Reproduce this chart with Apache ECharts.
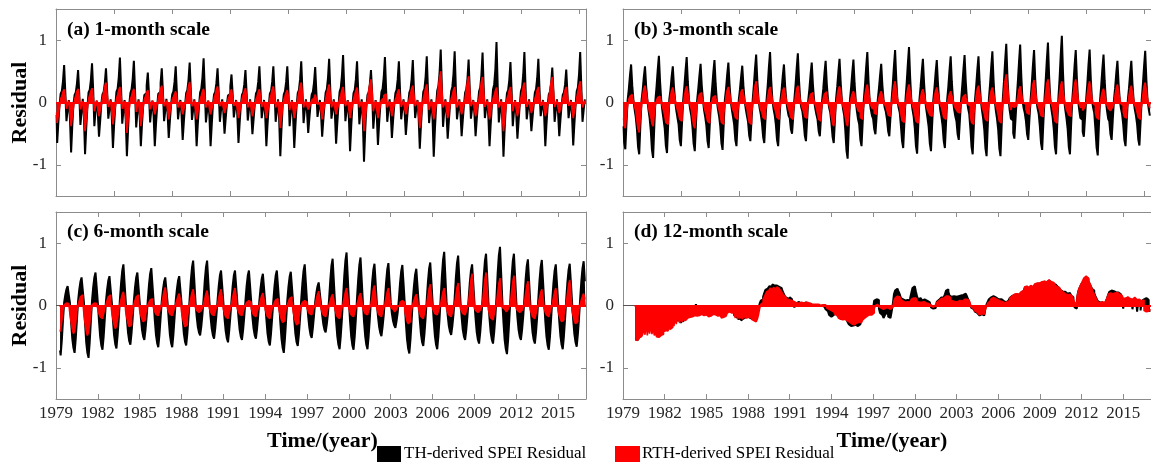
<!DOCTYPE html>
<html>
<head>
<meta charset="utf-8">
<script src="https://cdn.jsdelivr.net/npm/echarts@6/dist/echarts.min.js"></script>
<style>
html, body { margin: 0; padding: 0; background: #ffffff; }
#chart { width: 1151px; height: 463px; }
</style>
</head>
<body>
<div id="chart"></div>
<script>
// Monthly SPEI residuals, Jan 1979 .. Dec 2016, one row of 12 months per year, in units of 0.01.
// th* = TH-derived residual, rth* = RTH-derived residual; suffix = SPEI time scale in months.

const th1 = [
  -20,-65,-33,-5,14,18,34,60,17,-30,-12,4,     // 1979
  -25,-80,-38,-3,12,16,30,52,15,-36,-16,6,     // 1980
  -22,-83,-42,-8,16,20,36,63,20,-38,-14,3,     // 1981
  -18,-55,-30,-2,13,17,31,55,18,-26,-10,5,     // 1982
  -24,-73,-36,-6,17,22,40,72,22,-34,-13,4,     // 1983
  -27,-86,-44,-4,15,21,38,67,19,-40,-17,5,     // 1984
  -21,-70,-35,-5,12,15,27,48,14,-32,-11,3,     // 1985
  -22,-70,-36,-7,14,17,31,55,17,-30,-13,6,     // 1986
  -18,-57,-29,-3,13,18,33,58,16,-27,-10,4,     // 1987
  -19,-60,-31,-5,15,20,36,64,19,-28,-12,5,     // 1988
  -23,-70,-35,-6,16,22,40,71,21,-32,-14,3,     // 1989
  -22,-70,-36,-4,13,17,31,55,16,-31,-12,5,     // 1990
  -16,-50,-26,-3,11,14,26,45,13,-24,-9,4,      // 1991
  -20,-65,-33,-5,12,16,29,52,15,-29,-12,5,     // 1992
  -17,-51,-27,-4,14,18,33,58,17,-25,-10,4,     // 1993
  -22,-70,-35,-6,14,18,33,58,18,-31,-13,5,     // 1994
  -27,-86,-43,-5,13,18,33,58,17,-38,-15,4,     // 1995
  -23,-73,-37,-6,15,20,37,66,20,-33,-13,5,     // 1996
  -16,-49,-25,-3,13,17,32,57,17,-23,-9,4,      // 1997
  -18,-55,-28,-4,16,21,39,70,21,-26,-11,5,     // 1998
  -21,-66,-34,-6,17,23,43,76,23,-30,-12,4,     // 1999
  -25,-78,-39,-5,15,20,37,66,19,-35,-14,5,     // 2000
  -30,-95,-47,-7,12,16,29,52,15,-42,-17,4,     // 2001
  -22,-68,-34,-5,17,22,41,73,22,-31,-12,5,     // 2002
  -18,-57,-29,-4,15,20,37,66,20,-27,-10,5,     // 2003
  -17,-52,-27,-3,16,21,38,68,20,-25,-10,4,     // 2004
  -24,-74,-37,-6,17,22,41,74,22,-33,-13,5,     // 2005
  -28,-87,-44,-7,19,26,47,85,26,-39,-15,5,     // 2006
  -19,-58,-30,-4,18,25,46,82,25,-27,-11,5,     // 2007
  -18,-54,-28,-4,16,21,38,69,21,-26,-10,4,     // 2008
  -18,-54,-27,-3,18,24,44,80,24,-25,-10,5,     // 2009
  -23,-70,-35,-5,21,29,53,97,29,-32,-13,5,     // 2010
  -28,-87,-43,-6,15,20,36,65,19,-38,-15,4,     // 2011
  -19,-58,-30,-4,18,24,45,81,24,-27,-11,5,     // 2012
  -15,-46,-24,-3,16,21,39,70,21,-22,-9,4,      // 2013
  -22,-70,-35,-5,13,17,31,56,17,-31,-12,5,     // 2014
  -18,-54,-28,-4,12,16,29,53,16,-25,-10,4,     // 2015
  -22,-69,-35,-5,18,24,45,81,24,-31,-12,5      // 2016
];

const rth1 = [
  -16,-33,-20,-7,6,10,17,21,9,-10,-3,3,        // 1979
  -19,-38,-23,-8,5,11,18,22,10,-11,-4,2,       // 1980
  -23,-46,-28,-9,6,12,18,23,10,-14,-5,3,       // 1981
  -11,-22,-13,-4,7,16,26,32,14,-7,-2,3,        // 1982
  -17,-35,-21,-7,6,12,20,25,11,-10,-4,2,       // 1983
  -25,-49,-29,-10,5,11,18,22,10,-15,-5,3,      // 1984
  -19,-38,-23,-8,5,10,16,20,9,-11,-4,3,        // 1985
  -10,-19,-11,-4,6,14,22,27,12,-6,-2,3,        // 1986
  -13,-27,-16,-5,5,9,14,18,8,-8,-3,2,          // 1987
  -10,-19,-11,-4,7,16,26,33,15,-6,-2,3,        // 1988
  -13,-27,-16,-5,5,11,18,22,10,-8,-3,3,        // 1989
  -10,-19,-11,-4,6,13,21,26,12,-6,-2,2,        // 1990
  -9,-17,-10,-3,5,10,17,21,9,-5,-2,3,          // 1991
  -12,-25,-15,-5,6,12,18,23,10,-8,-3,3,        // 1992
  -11,-22,-13,-4,5,10,17,21,9,-7,-2,2,         // 1993
  -12,-25,-15,-5,6,13,21,26,12,-8,-3,3,        // 1994
  -20,-41,-25,-8,5,10,16,20,9,-12,-4,3,        // 1995
  -12,-25,-15,-5,7,16,26,32,14,-8,-3,3,        // 1996
  -6,-11,-7,-2,4,7,10,13,6,-3,-1,2,            // 1997
  -13,-27,-16,-5,6,14,23,29,13,-8,-3,3,        // 1998
  -10,-19,-11,-4,6,12,20,25,11,-6,-2,3,        // 1999
  -12,-25,-15,-5,6,12,19,24,11,-8,-3,2,        // 2000
  -23,-46,-28,-9,7,18,30,37,17,-14,-5,3,       // 2001
  -12,-25,-15,-5,4,7,11,14,6,-8,-3,2,          // 2002
  -11,-22,-13,-4,5,10,17,21,9,-7,-2,3,         // 2003
  -10,-19,-11,-4,6,14,22,27,12,-6,-2,3,        // 2004
  -20,-41,-25,-8,6,14,23,29,13,-12,-4,3,       // 2005
  -13,-27,-16,-5,8,25,40,50,22,-8,-3,3,        // 2006
  -12,-25,-15,-5,6,12,20,25,11,-8,-3,3,        // 2007
  -10,-19,-11,-4,7,21,34,42,19,-6,-2,3,        // 2008
  -11,-22,-13,-4,7,20,33,41,18,-7,-2,3,        // 2009
  -13,-27,-16,-5,6,12,19,24,11,-8,-3,3,        // 2010
  -23,-46,-28,-9,6,12,20,25,11,-14,-5,3,       // 2011
  -11,-22,-13,-4,7,16,26,32,14,-7,-2,3,        // 2012
  -9,-17,-10,-3,6,12,20,25,11,-5,-2,3,         // 2013
  -11,-22,-13,-4,7,20,33,41,18,-7,-2,3,        // 2014
  -9,-17,-10,-3,6,12,20,25,11,-5,-2,3,         // 2015
  -12,-25,-15,-5,7,17,27,34,15,-8,-3,3         // 2016
];

const th3 = [
  -38,-64,-75,-34,4,21,43,61,27,4,-11,-23,     // 1979
  -42,-71,-83,-37,3,20,41,58,26,5,-12,-25,     // 1980
  -45,-76,-89,-40,4,26,53,75,34,4,-13,-27,     // 1981
  -41,-69,-81,-36,5,20,41,58,26,3,-12,-24,     // 1982
  -35,-60,-70,-32,4,26,51,73,33,4,-11,-21,     // 1983
  -39,-66,-78,-35,3,22,43,62,28,5,-12,-23,     // 1984
  -37,-62,-73,-33,4,24,48,68,31,4,-11,-22,     // 1985
  -38,-65,-76,-34,5,22,45,64,29,3,-11,-23,     // 1986
  -35,-60,-70,-32,4,21,41,59,27,4,-10,-21,     // 1987
  -31,-53,-62,-28,4,27,54,77,35,5,-9,-19,      // 1988
  -33,-55,-65,-29,5,28,57,81,36,4,-10,-20,     // 1989
  -35,-60,-70,-32,4,21,43,61,27,3,-11,-21,     // 1990
  -25,-43,-50,-23,5,28,55,79,36,4,-8,-15,      // 1991
  -31,-53,-62,-28,4,22,45,64,29,4,-9,-19,      // 1992
  -27,-46,-54,-24,4,23,47,67,30,5,-8,-16,      // 1993
  -33,-55,-65,-29,5,25,49,70,32,4,-10,-20,     // 1994
  -45,-77,-90,-41,4,24,48,69,31,3,-14,-27,     // 1995
  -35,-60,-70,-32,5,28,57,81,36,4,-11,-21,     // 1996
  -26,-43,-51,-23,4,22,43,62,28,5,-8,-15,      // 1997
  -27,-46,-54,-24,5,29,59,84,38,4,-8,-16,      // 1998
  -37,-62,-73,-33,5,31,62,89,40,4,-11,-22,     // 1999
  -41,-70,-82,-37,4,25,49,70,32,3,-12,-25,     // 2000
  -39,-66,-78,-35,4,24,48,68,31,4,-12,-23,     // 2001
  -37,-62,-73,-33,5,26,52,74,33,4,-11,-22,     // 2002
  -30,-51,-60,-27,4,27,53,76,34,5,-9,-18,      // 2003
  -42,-71,-83,-37,4,26,52,74,33,4,-12,-25,     // 2004
  -43,-73,-86,-39,5,29,57,82,37,4,-13,-26,     // 2005
  -43,-73,-86,-39,5,33,66,94,42,5,-13,-26,     // 2006
  -29,-49,-58,-26,5,33,65,93,42,4,-9,-17,      // 2007
  -30,-51,-60,-27,4,29,59,84,38,4,-9,-18,      // 2008
  -38,-65,-76,-34,5,34,67,96,43,5,-11,-23,     // 2009
  -42,-71,-83,-37,6,37,75,107,48,4,-12,-25,    // 2010
  -42,-71,-83,-37,4,29,59,84,38,4,-12,-25,     // 2011
  -28,-47,-55,-25,5,30,60,85,38,4,-8,-17,      // 2012
  -43,-72,-85,-38,4,27,54,77,35,4,-13,-26,     // 2013
  -30,-51,-60,-27,4,23,47,67,30,5,-9,-18,      // 2014
  -35,-60,-70,-32,4,23,47,67,30,4,-11,-21,     // 2015
  -35,-59,-69,-31,5,29,58,83,37,4,-10,-21      // 2016
];

const rth3 = [
  -25,-37,-41,-21,-4,5,10,13,8,3,-6,-14,       // 1979
  -29,-43,-48,-24,-5,11,22,27,16,5,-7,-17,     // 1980
  -23,-34,-38,-19,-4,4,8,10,6,2,-6,-13,        // 1981
  -21,-32,-35,-18,-4,10,19,24,14,5,-5,-12,     // 1982
  -18,-27,-30,-15,-3,10,21,26,16,5,-5,-11,     // 1983
  -25,-37,-41,-21,-4,6,13,16,10,3,-6,-14,      // 1984
  -20,-30,-33,-17,-3,4,9,11,7,2,-5,-12,        // 1985
  -21,-32,-35,-18,-4,10,20,25,15,5,-5,-12,     // 1986
  -16,-24,-27,-14,-3,8,17,21,13,4,-4,-9,       // 1987
  -21,-32,-35,-18,-4,14,27,34,20,7,-5,-12,     // 1988
  -16,-24,-27,-14,-3,10,20,25,15,5,-4,-9,      // 1989
  -16,-24,-27,-14,-3,10,19,24,14,5,-4,-9,      // 1990
  -16,-24,-27,-14,-3,11,22,27,16,5,-4,-9,      // 1991
  -15,-23,-25,-13,-3,6,13,16,10,3,-4,-9,       // 1992
  -18,-27,-30,-15,-3,7,14,17,10,3,-5,-11,      // 1993
  -23,-34,-38,-19,-4,10,21,26,16,5,-6,-13,     // 1994
  -23,-34,-38,-19,-4,7,14,18,11,4,-6,-13,      // 1995
  -16,-24,-27,-14,-3,12,23,29,17,6,-4,-9,      // 1996
  -11,-17,-19,-10,-2,7,14,18,11,4,-3,-7,       // 1997
  -13,-20,-22,-11,-2,14,27,34,20,7,-3,-8,      // 1998
  -19,-29,-32,-16,-3,12,23,29,17,6,-5,-11,     // 1999
  -20,-30,-33,-17,-3,8,17,21,13,4,-5,-12,      // 2000
  -13,-20,-22,-11,-2,10,19,24,14,5,-3,-8,      // 2001
  -16,-24,-27,-14,-3,7,14,18,11,4,-4,-9,       // 2002
  -10,-15,-17,-9,-2,5,10,13,8,3,-3,-6,         // 2003
  -21,-32,-35,-18,-4,11,22,27,16,5,-5,-12,     // 2004
  -18,-27,-30,-15,-3,10,19,24,14,5,-5,-11,     // 2005
  -20,-30,-33,-17,-3,18,36,45,27,9,-5,-12,     // 2006
  -5,-8,-9,-5,-1,10,21,26,16,5,-1,-3,          // 2007
  -11,-17,-19,-10,-2,14,29,36,22,7,-3,-7,      // 2008
  -14,-21,-23,-12,-2,15,30,37,22,7,-3,-8,      // 2009
  -20,-30,-33,-17,-3,14,27,34,20,7,-5,-12,     // 2010
  -13,-20,-22,-11,-2,15,30,37,22,7,-3,-8,      // 2011
  -8,-13,-14,-7,-1,14,27,34,20,7,-2,-5,        // 2012
  -16,-24,-27,-14,-3,9,18,22,13,4,-4,-9,       // 2013
  -8,-13,-14,-7,-1,12,23,29,17,6,-2,-5,        // 2014
  -15,-23,-25,-13,-3,11,22,27,16,5,-4,-9,      // 2015
  -16,-24,-27,-14,-3,13,26,32,19,6,-4,-9       // 2016
];

const th6 = [
  null,null,null,-72,-80,-56,-24,5,17,26,31,17, // 1979
  4,-27,-53,-68,-76,-53,-23,7,25,38,45,25,     // 1980
  5,-29,-59,-76,-84,-59,-25,8,29,45,53,29,     // 1981
  4,-25,-50,-64,-71,-50,-21,7,26,40,47,26,     // 1982
  5,-24,-48,-62,-69,-48,-21,10,36,56,66,36,    // 1983
  6,-22,-44,-57,-63,-44,-19,8,29,45,53,29,     // 1984
  5,-19,-39,-50,-55,-39,-17,9,33,51,60,33,     // 1985
  6,-23,-47,-60,-67,-47,-20,7,25,38,45,25,     // 1986
  4,-23,-47,-60,-67,-47,-20,7,26,40,47,26,     // 1987
  4,-22,-45,-58,-64,-45,-19,11,40,61,72,40,    // 1988
  6,-17,-34,-43,-48,-34,-14,11,40,61,72,40,    // 1989
  6,-19,-37,-48,-53,-37,-16,8,31,48,56,31,     // 1990
  5,-21,-41,-53,-59,-41,-18,8,31,48,56,31,     // 1991
  5,-19,-39,-50,-55,-39,-17,8,31,48,56,31,     // 1992
  5,-19,-37,-48,-53,-37,-16,8,28,43,51,28,     // 1993
  4,-22,-45,-58,-64,-45,-19,8,31,48,56,31,     // 1994
  5,-27,-53,-68,-76,-53,-23,8,30,46,54,30,     // 1995
  5,-23,-46,-59,-65,-46,-20,10,36,56,66,36,    // 1996
  6,-18,-36,-47,-52,-36,-16,6,20,31,37,20,     // 1997
  3,-15,-30,-39,-43,-30,-13,11,41,64,75,41,    // 1998
  6,-25,-49,-63,-70,-49,-21,13,47,72,85,47,    // 1999
  7,-25,-50,-64,-71,-50,-21,12,42,65,77,42,    // 2000
  6,-25,-49,-63,-70,-49,-21,10,37,57,67,37,    // 2001
  5,-17,-34,-44,-49,-34,-15,10,37,58,68,37,    // 2002
  5,-13,-25,-32,-36,-25,-11,10,36,55,65,36,    // 2003
  5,-27,-54,-69,-77,-54,-23,9,32,50,59,32,     // 2004
  5,-23,-46,-59,-65,-46,-20,10,38,59,69,38,    // 2005
  5,-25,-49,-63,-70,-49,-21,13,47,73,86,47,    // 2006
  7,-16,-33,-42,-47,-33,-14,12,44,68,80,44,    // 2007
  6,-19,-39,-50,-55,-39,-17,10,36,56,66,36,    // 2008
  5,-21,-43,-55,-61,-43,-18,12,46,71,83,46,    // 2009
  7,-21,-43,-55,-61,-43,-18,14,52,80,94,52,    // 2010
  7,-27,-55,-70,-78,-55,-23,12,46,71,83,46,    // 2011
  7,-19,-39,-50,-55,-39,-17,11,41,63,74,41,    // 2012
  6,-21,-43,-55,-61,-43,-18,11,40,62,73,40,    // 2013
  6,-25,-50,-64,-71,-50,-21,10,36,56,66,36,    // 2014
  5,-25,-49,-63,-70,-49,-21,10,37,57,67,37,    // 2015
  5,-23,-46,-59,-66,-46,-20,11,39,60,71,39     // 2016
];

const rth6 = [
  null,null,null,-42,-38,-25,-8,1,2,4,5,3,     // 1979
  -14,-27,-38,-45,-41,-27,-9,2,8,14,17,9,      // 1980
  -14,-29,-41,-48,-43,-29,-10,1,2,4,5,3,       // 1981
  -6,-13,-18,-21,-19,-13,-4,2,8,14,17,9,       // 1982
  -11,-22,-31,-37,-33,-22,-7,2,10,18,22,11,    // 1983
  -10,-20,-29,-34,-31,-20,-7,2,8,14,17,9,      // 1984
  -8,-16,-22,-26,-23,-16,-5,1,5,9,11,6,        // 1985
  -5,-10,-14,-16,-14,-10,-3,3,13,23,29,15,     // 1986
  -5,-10,-14,-16,-14,-10,-3,2,9,15,19,10,      // 1987
  -10,-20,-29,-34,-31,-20,-7,3,12,21,26,13,    // 1988
  -4,-8,-11,-13,-12,-8,-3,2,11,19,24,12,       // 1989
  -5,-10,-14,-16,-14,-10,-3,3,12,21,26,13,     // 1990
  -6,-13,-18,-21,-19,-13,-4,3,13,22,28,14,     // 1991
  -5,-10,-14,-16,-14,-10,-3,1,5,8,10,5,        // 1992
  -5,-11,-15,-18,-16,-11,-4,2,9,16,20,10,      // 1993
  -6,-13,-18,-21,-19,-13,-4,1,5,9,11,6,        // 1994
  -8,-16,-23,-27,-24,-16,-5,1,6,11,14,7,       // 1995
  -9,-19,-26,-31,-28,-19,-6,1,5,8,10,5,        // 1996
  -5,-9,-13,-15,-14,-9,-3,2,10,18,23,12,       // 1997
  -5,-11,-15,-18,-16,-11,-4,2,8,14,18,9,       // 1998
  -6,-13,-18,-21,-19,-13,-4,3,13,22,28,14,     // 1999
  -5,-11,-15,-18,-16,-11,-4,2,9,16,20,10,      // 2000
  -5,-9,-13,-15,-14,-9,-3,3,14,26,32,16,       // 2001
  -5,-11,-15,-18,-16,-11,-4,3,13,22,28,14,     // 2002
  -3,-6,-9,-10,-9,-6,-2,1,5,8,10,5,            // 2003
  -9,-17,-25,-29,-26,-17,-6,2,8,14,18,9,       // 2004
  -6,-13,-18,-21,-19,-13,-4,3,15,27,34,17,     // 2005
  -5,-9,-13,-15,-14,-9,-3,3,13,22,28,14,       // 2006
  -5,-11,-15,-18,-16,-11,-4,4,16,29,36,18,     // 2007
  -5,-9,-13,-15,-14,-9,-3,5,23,41,51,26,       // 2008
  -4,-8,-11,-13,-12,-8,-3,5,24,42,53,27,       // 2009
  -7,-14,-20,-23,-21,-14,-5,4,20,35,44,22,     // 2010
  -3,-6,-9,-10,-9,-6,-2,5,22,38,48,24,         // 2011
  -4,-8,-11,-13,-12,-8,-3,4,18,31,39,20,       // 2012
  -6,-13,-18,-21,-19,-13,-4,3,12,21,26,13,     // 2013
  -5,-11,-15,-18,-16,-11,-4,3,13,22,28,14,     // 2014
  -8,-16,-22,-26,-23,-16,-5,4,18,33,41,21,     // 2015
  -9,-17,-25,-29,-26,-17,-6,2,9,15,19,10       // 2016
];

const th12 = [
  null,null,null,null,null,null,null,null,null,null,-54,-55, // 1979
  -55,-53,-50,-47,-45,-43,-38,-40,-36,-38,-35,-37, // 1980
  -36,-37,-34,-36,-33,-35,-36,-34,-37,-35,-33,-30, // 1981
  -33,-31,-34,-30,-30,-31,-29,-27,-28,-26,-25,-24, // 1982
  -25,-24,-28,-22,-26,-20,-18,-19,-17,-18,-16,-17, // 1983
  -12,-8,-4,2,-5,-10,-12,-13,-11,-12,-14,-12,      // 1984
  -13,-14,-15,-13,-12,-13,-11,-10,-12,-14,-15,-13, // 1985
  -15,-17,-18,-16,-14,-12,-9,-7,-2,-6,-10,-12,     // 1986
  -16,-15,-18,-17,-22,-20,-24,-21,-23,-19,-20,-18, // 1987
  -18,-20,-19,-21,-20,-18,-17,-15,-12,-5,3,8,      // 1988
  10,14,20,25,27,30,31,33,30,34,32,33,             // 1989
  32,35,30,31,28,27,22,18,14,12,11,8,              // 1990
  13,10,6,2,-3,-2,4,6,3,2,5,3,                     // 1991
  3,5,4,2,1,3,2,0,-1,1,2,1,                        // 1992
  1,2,-1,-2,0,1,-2,-6,-9,-12,-15,-18,              // 1993
  -20,-19,-15,-12,-14,-16,-18,-20,-19,-21,-22,-20, // 1994
  -21,-23,-22,-30,-33,-35,-32,-34,-35,-31,-33,-30, // 1995
  -30,-28,-22,-18,-15,-12,-10,-8,-6,-5,-6,-7,      // 1996
  -4,8,10,11,9,-5,-12,-15,-18,-20,-16,-12,         // 1997
  -14,-18,-20,-17,-10,2,18,24,27,26,22,18,         // 1998
  12,10,9,8,11,9,10,8,12,20,28,31,                 // 1999
  30,22,14,10,12,9,8,11,10,9,8,7,                  // 2000
  5,2,-3,-5,-6,-4,-2,6,9,12,11,13,                 // 2001
  13,15,18,24,26,22,16,14,12,15,17,14,             // 2002
  12,15,13,16,14,17,18,19,17,15,10,6,              // 2003
  0,-4,-6,-8,-10,-12,-14,-15,-16,-15,-14,-16,      // 2004
  -14,-5,2,6,10,13,15,14,15,13,11,10,              // 2005
  10,8,10,9,7,5,4,5,6,8,12,15,                     // 2006
  15,17,16,18,19,17,20,19,21,23,26,29,             // 2007
  28,30,29,27,31,29,32,31,34,33,35,36,             // 2008
  35,37,36,38,39,37,38,40,39,37,38,38,             // 2009
  35,33,30,31,29,28,25,24,22,23,22,21,             // 2010
  19,18,20,16,13,8,-3,-5,10,21,27,31,              // 2011
  35,38,42,44,45,43,39,35,31,27,24,20,             // 2012
  15,11,7,5,3,4,5,3,4,7,11,17,                     // 2013
  22,24,25,23,22,21,20,21,20,18,16,15,             // 2014
  -5,10,9,12,11,10,9,8,-6,7,8,10,                  // 2015
  -10,6,8,-8,7,8,10,12,11,9,-9,-8                  // 2016
];

const rth12 = [
  null,null,null,null,null,null,null,null,null,null,-55,-57, // 1979
  -56,-54,-52,-50,-49,-46,-30,-47,-28,-48,-32,-45, // 1980
  -30,-46,-33,-48,-44,-50,-49,-51,-50,-48,-46,-42, // 1981
  -40,-38,-41,-37,-36,-38,-35,-20,-33,-18,-30,-17, // 1982
  -16,-28,-18,-26,-22,-24,-21,-22,-20,-21,-19,-20, // 1983
  -18,-17,-16,-15,-17,-18,-16,-15,-14,-16,-17,-15, // 1984
  -16,-18,-19,-17,-15,-16,-14,-13,-15,-17,-18,-16, // 1985
  -18,-20,-21,-19,-17,-15,-12,-10,-8,-9,-12,-11,   // 1986
  -12,-20,-10,-22,-13,-21,-15,-22,-14,-20,-12,-21, // 1987
  -15,-20,-18,-22,-24,-25,-26,-24,-22,-15,-5,2,    // 1988
  5,10,14,18,22,24,26,28,25,27,29,26,              // 1989
  28,30,27,25,26,22,18,15,12,11,10,9,              // 1990
  9,8,7,6,5,4,6,5,4,3,5,4,                         // 1991
  4,3,5,3,2,4,3,2,1,2,3,2,                         // 1992
  2,1,0,-1,1,2,1,-2,-4,-5,-6,-8,                   // 1993
  -8,-10,-12,-14,-16,-18,-20,-22,-21,-23,-24,-22,  // 1994
  -23,-25,-24,-27,-28,-30,-29,-31,-30,-28,-29,-27, // 1995
  -28,-27,-25,-23,-22,-20,-19,-17,-16,-15,-14,-15, // 1996
  -12,-5,0,2,1,-2,-4,-5,-6,-5,-4,-3,               // 1997
  -4,-5,-6,-5,-3,0,8,12,15,16,14,13,               // 1998
  10,7,6,5,8,6,7,5,8,10,12,13,                     // 1999
  12,10,7,5,6,5,4,6,5,4,5,3,                       // 2000
  3,1,-1,-2,-3,-2,1,5,8,10,9,11,                   // 2001
  10,12,13,15,14,15,13,9,8,7,8,6,                  // 2002
  7,6,8,9,7,8,10,11,10,9,8,6,                      // 2003
  2,-3,-5,-7,-9,-11,-13,-14,-15,-13,-12,-14,       // 2004
  -12,-6,-1,4,7,9,11,12,13,11,10,9,                // 2005
  8,7,9,8,6,5,4,5,6,8,12,15,                       // 2006
  16,18,17,19,20,18,21,20,22,24,27,30,             // 2007
  29,31,30,28,32,30,33,32,35,34,36,37,             // 2008
  36,38,37,39,40,38,39,41,40,38,39,37,             // 2009
  35,33,30,31,29,28,24,22,20,21,19,18,             // 2010
  17,16,18,15,12,10,5,3,12,22,28,32,               // 2011
  36,40,44,45,47,44,40,36,32,27,22,18,             // 2012
  14,10,6,5,4,5,6,4,5,8,12,18,                     // 2013
  20,21,19,22,21,20,19,21,20,18,16,15,             // 2014
  12,13,11,14,12,13,11,12,10,13,11,12,             // 2015
  9,8,10,7,8,9,-8,-10,-12,-9,-7,-6                 // 2016
];

const panelTitles = ['(a) 1-month scale', '(b) 3-month scale', '(c) 6-month scale', '(d) 12-month scale'];
const legendNames = ['TH-derived SPEI Residual', 'RTH-derived SPEI Residual'];
const firstYear = 1979;
const monthCount = 456;
const monthTicks = [50, 100, 150, 200, 250, 300, 350, 400, 450];
const yearTicks = [0, 36, 72, 108, 144, 180, 216, 252, 288, 324, 360, 396, 432];
const residualTicks = [-1, 0, 1];

// each monthly value is plotted at the middle of its month
const months = th1.map((_, i) => i + 0.5);

const serif = '"Liberation Serif", "Times New Roman", serif';
const axisGray = '#8c8c8c';
const textDark = '#262626';

const grids = [
  { left: 56, top: 9, width: 530, height: 187 },
  { left: 623, top: 9, width: 530, height: 187 },
  { left: 56, top: 212, width: 530, height: 187 },
  { left: 623, top: 212, width: 530, height: 187 }
];

const panels = [
  { th: th1, rth: rth1, ticks: monthTicks, years: false },
  { th: th3, rth: rth3, ticks: monthTicks, years: false },
  { th: th6, rth: rth6, ticks: yearTicks, years: true },
  { th: th12, rth: rth12, ticks: yearTicks, years: true }
];

function toPoints(arr) {
  const out = [];
  arr.forEach((v, i) => { if (v !== null) out.push([months[i], v / 100]); });
  return out;
}
function firstIndex(arr) {
  return arr.findIndex(v => v !== null);
}

function xAxisFor(p, gi, pos) {
  return {
    type: 'value', gridIndex: gi, position: pos, min: 0, max: monthCount,
    axisLine: { show: true, onZero: false, lineStyle: { color: axisGray, width: 1 } },
    axisTick: { show: true, inside: true, length: 5, customValues: p.ticks, lineStyle: { color: axisGray } },
    axisLabel: {
      show: pos === 'bottom' && p.years, customValues: p.ticks,
      formatter: v => String(firstYear + Math.round(v / 12)),
      fontFamily: serif, fontSize: 17, color: textDark, margin: 6
    },
    splitLine: { show: false }
  };
}
function yAxisFor(gi, pos) {
  return {
    type: 'value', gridIndex: gi, position: pos, min: -1.5, max: 1.5,
    axisLine: { show: true, onZero: false, lineStyle: { color: axisGray, width: 1 } },
    axisTick: { show: true, inside: true, length: 5, customValues: residualTicks, lineStyle: { color: axisGray } },
    axisLabel: { show: pos === 'left', customValues: residualTicks, fontFamily: serif, fontSize: 17, color: textDark, margin: 9 },
    splitLine: { show: false }
  };
}

// monthly residuals drawn as filled month-wide steps from the zero line
function residualSeries(name, arr, gi, color, width, z, zeroLine) {
  return {
    name: name, type: 'line', xAxisIndex: gi * 2, yAxisIndex: gi * 2,
    data: toPoints(arr), step: 'middle', symbol: 'none', silent: true, z: z,
    lineStyle: { color: color, width: width },
    areaStyle: { color: color, opacity: 1, origin: 0 },
    markLine: zeroLine
  };
}

const xAxes = [], yAxes = [], series = [];
panels.forEach((p, gi) => {
  xAxes.push(xAxisFor(p, gi, 'bottom'), xAxisFor(p, gi, 'top'));
  yAxes.push(yAxisFor(gi, 'left'), yAxisFor(gi, 'right'));
  const start = Math.min(firstIndex(p.th), firstIndex(p.rth));
  series.push(residualSeries(legendNames[0], p.th, gi, '#000000', 2, 2, {
    silent: true, symbol: ['none', 'none'], label: { show: false },
    lineStyle: { color: '#555555', width: 1, type: 'solid' },
    data: [{ yAxis: 0 }]
  }));
  series.push(residualSeries(legendNames[1], p.rth, gi, '#ff0000', 1.6, 3, {
    silent: true, symbol: ['none', 'none'], label: { show: false },
    lineStyle: { color: '#ff0000', width: 2, type: 'solid' },
    data: [[{ coord: [start, 0] }, { coord: [monthCount, 0] }]]
  }));
});

const boldFont = 'bold 19.5px ' + serif;
const titleSpots = [[67, 30], [634, 30], [67, 232], [634, 232]];
const graphics = panelTitles.map((t, i) => ({
  type: 'text', x: titleSpots[i][0], y: titleSpots[i][1], silent: true,
  style: { text: t, font: boldFont, fill: '#000000', align: 'left', verticalAlign: 'middle' }
}));
[102.5, 305.5].forEach(cy => graphics.push({
  type: 'text', x: 20, y: cy, rotation: Math.PI / 2, silent: true,
  style: { text: 'Residual', font: 'bold 22px ' + serif, fill: '#000000', align: 'center', verticalAlign: 'middle' }
}));
[322.5, 892].forEach(cx => graphics.push({
  type: 'text', x: cx, y: 441, silent: true,
  style: { text: 'Time/(year)', font: 'bold 22px ' + serif, fill: '#000000', align: 'center', verticalAlign: 'middle' }
}));
graphics.push(
  { type: 'rect', shape: { x: 377, y: 446, width: 24, height: 16 }, style: { fill: '#000000' }, silent: true },
  { type: 'text', x: 404, y: 454, silent: true,
    style: { text: legendNames[0], font: '17px ' + serif, fill: '#000000', align: 'left', verticalAlign: 'middle' } },
  { type: 'rect', shape: { x: 615, y: 446, width: 25, height: 16 }, style: { fill: '#ff0000' }, silent: true },
  { type: 'text', x: 642, y: 454, silent: true,
    style: { text: legendNames[1], font: '17px ' + serif, fill: '#000000', align: 'left', verticalAlign: 'middle' } }
);

const chart = echarts.init(document.getElementById('chart'), null, { renderer: 'canvas' });
chart.setOption({
  animation: false,
  backgroundColor: '#ffffff',
  grid: grids,
  xAxis: xAxes,
  yAxis: yAxes,
  series: series,
  graphic: graphics
});
</script>
</body>
</html>
